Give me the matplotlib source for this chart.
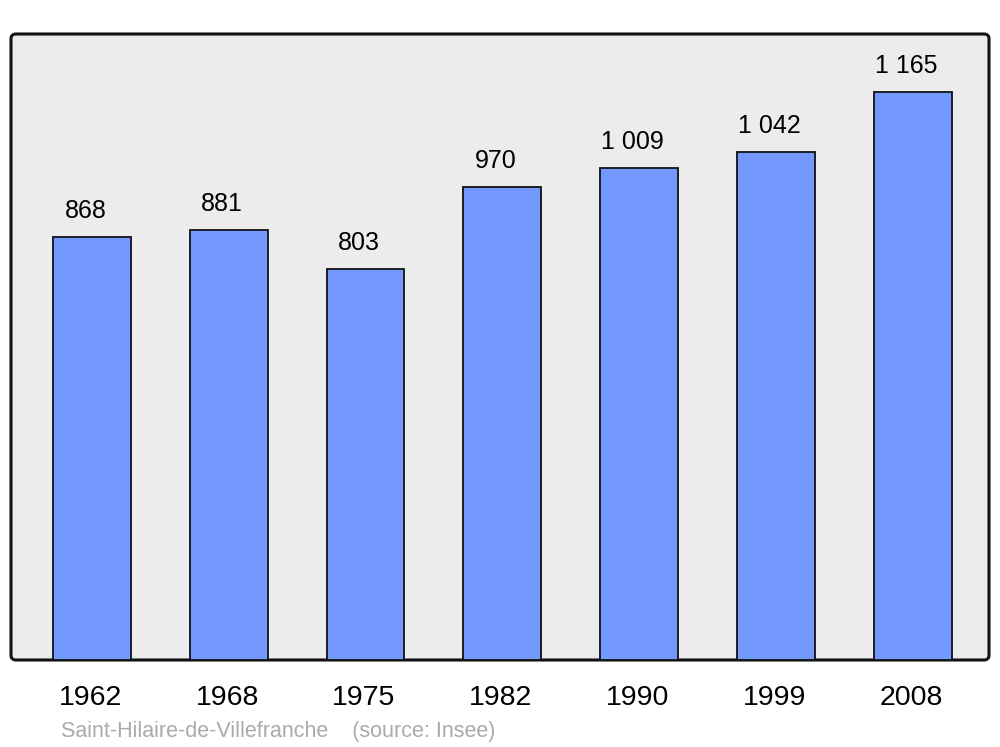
import matplotlib
matplotlib.use("Agg")
import matplotlib.pyplot as plt
from matplotlib.patches import FancyBboxPatch

years = ["1962", "1968", "1975", "1982", "1990", "1999", "2008"]
population = [868, 881, 803, 970, 1009, 1042, 1165]
value_labels = ["868", "881", "803", "970", "1 009", "1 042", "1 165"]
source_text = "Saint-Hilaire-de-Villefranche    (source: Insee)"

plt.rcParams['font.family'] = ['Liberation Sans', 'DejaVu Sans']

fig = plt.figure(figsize=(10, 7.47), dpi=100)
ax = fig.add_axes([0.011, 87 / 747, 0.978, 626 / 747])
ax.set_facecolor('none')
for s in ax.spines.values():
    s.set_visible(False)

frame = FancyBboxPatch((0, 0), 1, 1, boxstyle="round,pad=0,rounding_size=0.005",
                       transform=ax.transAxes, facecolor='#ececec',
                       edgecolor='#111111', linewidth=2.2, zorder=0, clip_on=False,
                       mutation_aspect=978 / 626)
ax.add_patch(frame)

x = list(range(len(years)))
ax.bar(x, population, width=0.57, color='#7399ff', edgecolor='#111111',
       linewidth=1.3, zorder=2)

ax.set_xlim(-0.592, 6.559)
ax.set_ylim(0, 1284)
ax.set_xticks([])
ax.set_yticks([])

for xi, v, lab in zip(x, population, value_labels):
    ax.annotate(lab, xy=(xi, v), xytext=(-6.5 * 72 / 100, 19 * 72 / 100),
                textcoords='offset points',
                ha='center', va='baseline', fontsize=18, color='black')

for xi, y in zip(x, years):
    ax.annotate(y, xy=(xi, 0), xycoords=('data', 'axes fraction'),
                xytext=(-1.5 * 72 / 100, -45 * 72 / 100), textcoords='offset points',
                ha='center', va='baseline', fontsize=20.5, color='black')

fig.text(61 / 1000, 1 - 737 / 747, source_text, fontsize=15.5, color='#aaaaaa',
         ha='left', va='baseline')

fig.savefig('out.png', dpi=100)
